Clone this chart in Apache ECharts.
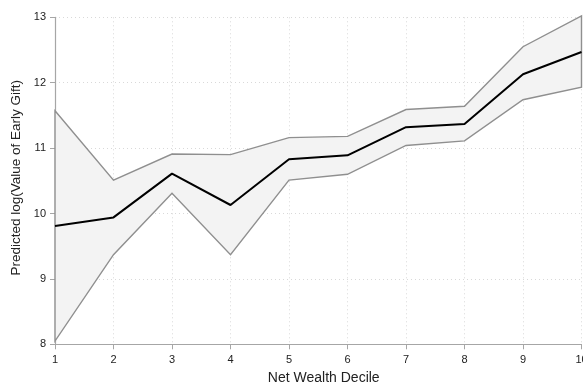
<!DOCTYPE html>
<html>
<head>
<meta charset="utf-8">
<script src="https://cdn.jsdelivr.net/npm/echarts@6/dist/echarts.min.js"></script>
<style>
  html, body { margin: 0; padding: 0; background: #fff; }
  #chart { width: 583px; height: 383px; }
</style>
</head>
<body>
<div id="chart"></div>
<script>
// Net wealth deciles and predicted log value of early gift with confidence band
const deciles = [1, 2, 3, 4, 5, 6, 7, 8, 9, 10];
const predicted = [9.81, 9.94, 10.61, 10.13, 10.83, 10.89, 11.32, 11.37, 12.13, 12.47];
const upperCI = [11.57, 10.51, 10.91, 10.90, 11.16, 11.18, 11.59, 11.64, 12.55, 13.02];
const lowerCI = [8.05, 9.37, 10.31, 9.37, 10.51, 10.60, 11.04, 11.11, 11.74, 11.93];
const yTicks = [8, 9, 10, 11, 12, 13];

const pairs = arr => deciles.map((d, i) => [d, arr[i]]);

const gridLine = { show: true, lineStyle: { color: '#d9d9d9', type: [1, 3], width: 1 } };
const axisLine = { show: true, lineStyle: { color: '#a6a6a6', width: 1.2 } };
const font = 'Liberation Sans, Arial, sans-serif';

// Closed polygon of the confidence band: along the upper bound, back along the lower bound
function renderBand(params, api) {
  const pts = [];
  deciles.forEach((d, i) => pts.push(api.coord([d, upperCI[i]])));
  for (let i = deciles.length - 1; i >= 0; i--) pts.push(api.coord([deciles[i], lowerCI[i]]));
  return {
    type: 'polygon',
    shape: { points: pts },
    style: { fill: '#f3f3f3', stroke: '#8f8f8f', lineWidth: 1.4 }
  };
}

const chart = echarts.init(document.getElementById('chart'), null, { renderer: 'canvas' });
chart.setOption({
  animation: false,
  grid: { left: 55, right: 1.5, top: 17.3, bottom: 38.7, containLabel: false, outerBoundsMode: 'none' },
  xAxis: {
    type: 'value', min: 1, max: 10, interval: 1,
    name: 'Net Wealth Decile', nameLocation: 'middle', nameGap: 27,
    nameTextStyle: { fontFamily: font, fontSize: 14, color: '#222', padding: [0, 0, 0, 11] },
    axisLine: axisLine,
    axisTick: { show: true, length: 5, lineStyle: { color: '#a6a6a6' } },
    axisLabel: { fontFamily: font, fontSize: 11, color: '#222', margin: 10 },
    splitLine: gridLine
  },
  yAxis: {
    type: 'value', min: yTicks[0], max: yTicks[yTicks.length - 1], interval: 1,
    name: 'Predicted log(Value of Early Gift)', nameLocation: 'middle', nameGap: 31,
    nameTextStyle: { fontFamily: font, fontSize: 13.5, color: '#222', padding: [0, 0, 0, 6] },
    axisLine: axisLine,
    axisTick: { show: true, length: 5, lineStyle: { color: '#a6a6a6' } },
    axisLabel: { fontFamily: font, fontSize: 11, color: '#222', margin: 9 },
    splitLine: gridLine
  },
  series: [
    {
      type: 'custom', renderItem: renderBand, data: [0], silent: true, clip: false, z: 1
    },
    {
      type: 'line', data: pairs(predicted), symbol: 'none', z: 3,
      lineStyle: { color: '#000', width: 2 }
    }
  ]
});
</script>
</body>
</html>
